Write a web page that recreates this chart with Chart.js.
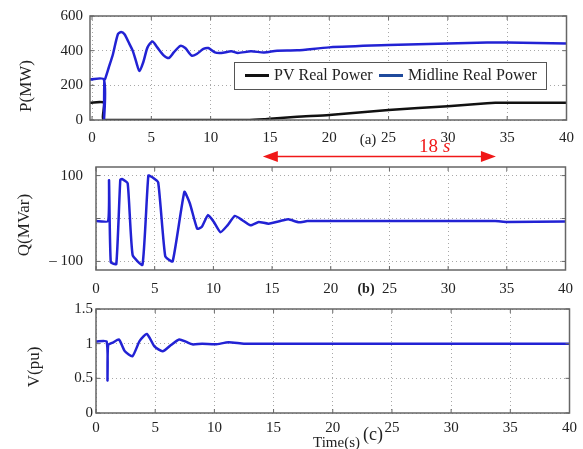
<!DOCTYPE html>
<html>
<head>
<meta charset="utf-8">
<script src="https://cdn.jsdelivr.net/npm/chart.js@4.4.1/dist/chart.umd.min.js"></script>
<style>
    html, body { margin: 0; padding: 0; background: #fff; }
    #wrap { position: relative; width: 583px; height: 449px; overflow: hidden; }
    #wrap canvas { position: absolute; left: 0; top: 0; }
</style>
</head>
<body>
<div id="wrap">
    <canvas id="chartP" width="583" height="449"></canvas>
    <canvas id="chartQ" width="583" height="449"></canvas>
    <canvas id="chartV" width="583" height="449"></canvas>
</div>
<script>
// ---------------------------
// Data
// ---------------------------
const timeTicks = [0, 5, 10, 15, 20, 25, 30, 35, 40];

const pTicks = [0, 200, 400, 600];
const pvTime  = [-0.17, 1.0, 1.01, 13, 14.5, 15.6, 17.3, 20, 25, 30, 33.3, 34, 40];
const pvPower = [100, 100, 0, 0, 4, 10, 19, 29, 57, 80, 97, 99, 99];
const midTime  = [-0.17, 1.0, 1.01, 1.04, 1.1, 1.4, 1.77, 2.18, 2.46, 2.74, 3.16, 3.43, 3.75, 3.99, 4.32, 4.68, 5.09, 5.5, 6.06, 6.48, 6.89, 7.45, 7.86, 8.41, 8.83, 9.39, 9.8, 10.36, 10.9, 11.74, 12.3, 13.4, 14.5, 15.6, 17.3, 20, 25, 30, 33.3, 35, 40];
const midPower = [234, 234, 0, 234, 236, 300, 381, 495, 508, 495, 438, 400, 330, 282, 333, 419, 453, 419, 371, 358, 390, 428, 415, 371, 381, 410, 415, 390, 387, 396, 387, 396, 390, 400, 402, 419, 432, 442, 447, 447, 442];

const qTicks = [-100, 0, 100];
const qTickLabels = ["\u2013 100", "", "100"];
const qTime = [0, 1.03, 1.11, 1.26, 1.73, 2.07, 2.24, 2.7, 3.12, 3.96, 4.46, 4.8, 5.3, 5.9, 6.53, 7.53, 8.0, 8.62, 9.0, 9.54, 10.04, 10.6, 11.2, 11.83, 12.47, 13.16, 13.86, 14.7, 15.96, 16.4, 17.3, 18, 25, 34, 35, 40];
const qVar  = [-6, -6, 89, -102, -106, 90, 92, 82, -85, -108, 100, 96, 84, -88, -100, 62, 35, -24, -20, 8, -8, -32, -16, 6, -4, -16, -8, -12, -4, -2, -9, -6, -6, -6, -8, -7];

const vTicks = [0, 0.5, 1, 1.5];
const vTime = [0, 0.9, 0.97, 1.03, 1.47, 1.94, 2.44, 3.08, 3.69, 4.3, 4.94, 5.63, 6.33, 7.03, 7.58, 8.14, 8.97, 10.08, 11.2, 12.5, 15, 20, 30, 40];
const vPu   = [1.03, 1.03, 0.47, 0.98, 1.02, 1.06, 0.89, 0.82, 1.04, 1.14, 0.96, 0.89, 0.98, 1.06, 1.03, 0.99, 1.0, 0.99, 1.02, 1.0, 1.0, 1.0, 1.0, 1.0];

// arrow under panel (a), in seconds
const arrowSpan = [14.4, 34.05];

// ---------------------------
// Styles
// ---------------------------
const SERIF = '"Liberation Serif", "Times New Roman", serif';
const BLUE = "#2222d4";
const LEGEND_BLUE = "#1f4a9c";
const GRID = "#a8a8a8";
const FRAME = "#666";
const TXT = "#222";

const toPoints = (xs, ys) => xs.map((x, i) => ({ x: x, y: ys[i] }));

// box around the plot area + small inward ticks (matlab look)
const framePlugin = {
    id: "frame",
    afterDatasetsDraw(chart) {
        const { ctx, chartArea: a, scales } = chart;
        ctx.save();
        ctx.strokeStyle = FRAME;
        ctx.lineWidth = 1;
        ctx.beginPath();
        scales.x.ticks.forEach(t => {
            const x = scales.x.getPixelForValue(t.value);
            ctx.moveTo(x, a.bottom); ctx.lineTo(x, a.bottom - 4);
            ctx.moveTo(x, a.top); ctx.lineTo(x, a.top + 4);
        });
        scales.y.ticks.forEach(t => {
            const y = scales.y.getPixelForValue(t.value);
            ctx.moveTo(a.left, y); ctx.lineTo(a.left + 4, y);
            ctx.moveTo(a.right, y); ctx.lineTo(a.right - 4, y);
        });
        ctx.stroke();
        ctx.lineWidth = 1.5;
        ctx.strokeRect(a.left, a.top, a.right - a.left, a.bottom - a.top);
        ctx.restore();
    }
};

// free text (axis titles, panel letters)
const notesPlugin = {
    id: "notes",
    afterDraw(chart, args, opts) {
        const ctx = chart.ctx;
        (opts.items || []).forEach(n => {
            ctx.save();
            ctx.fillStyle = n.color || TXT;
            ctx.font = `${n.style || ""} ${n.size}px ${SERIF}`;
            ctx.textAlign = n.align || "center";
            ctx.textBaseline = "middle";
            ctx.translate(n.x, n.y);
            if (n.rotate) ctx.rotate(n.rotate);
            ctx.fillText(n.text, 0, 0);
            ctx.restore();
        });
    }
};

// legend box + red 18 s arrow for panel (a)
const panelAPlugin = {
    id: "panelA",
    afterDraw(chart) {
        const { ctx, scales } = chart;
        ctx.save();
        // legend
        ctx.fillStyle = "#fff";
        ctx.fillRect(234, 62, 312, 27);
        ctx.strokeStyle = "#555";
        ctx.lineWidth = 1;
        ctx.strokeRect(234.5, 62.5, 312, 27);
        const entries = [
            { x: 245, color: chart.data.datasets[0].borderColor, label: chart.data.datasets[0].label },
            { x: 379, color: LEGEND_BLUE, label: chart.data.datasets[1].label }
        ];
        ctx.font = `16px ${SERIF}`;
        ctx.textBaseline = "middle";
        ctx.textAlign = "left";
        entries.forEach(e => {
            ctx.strokeStyle = e.color;
            ctx.lineWidth = 3;
            ctx.beginPath();
            ctx.moveTo(e.x, 75.5); ctx.lineTo(e.x + 24, 75.5);
            ctx.stroke();
            ctx.fillStyle = TXT;
            ctx.fillText(e.label, e.x + 29, 76);
        });

        // double arrow
        const x0 = scales.x.getPixelForValue(arrowSpan[0]);
        const x1 = scales.x.getPixelForValue(arrowSpan[1]);
        const y = 156.5;
        ctx.strokeStyle = "#f01818";
        ctx.fillStyle = "#f01818";
        ctx.lineWidth = 1.5;
        ctx.beginPath();
        ctx.moveTo(x0 + 12, y); ctx.lineTo(x1 - 12, y);
        ctx.stroke();
        ctx.beginPath();
        ctx.moveTo(x0, y); ctx.lineTo(x0 + 15, y - 5.5); ctx.lineTo(x0 + 15, y + 5.5); ctx.closePath();
        ctx.moveTo(x1, y); ctx.lineTo(x1 - 15, y - 5.5); ctx.lineTo(x1 - 15, y + 5.5); ctx.closePath();
        ctx.fill();

        ctx.textBaseline = "alphabetic";
        ctx.font = `19px ${SERIF}`;
        ctx.fillText("18", 419, 152);
        ctx.font = `italic 19px ${SERIF}`;
        ctx.fillText("s", 443, 152);
        ctx.restore();
    }
};

// ---------------------------
// Shared options
// ---------------------------
function panelOptions(cfg) {
    return {
        responsive: false,
        animation: false,
        devicePixelRatio: 1,
        layout: { padding: { left: 0, right: cfg.right, top: cfg.top, bottom: cfg.bottom } },
        plugins: {
            legend: { display: false },
            tooltip: { enabled: false },
            notes: { items: cfg.notes }
        },
        elements: { point: { radius: 0 }, line: { borderCapStyle: "round", borderJoinStyle: "round" } },
        scales: {
            x: {
                type: "linear",
                min: cfg.xMin,
                max: 40,
                afterBuildTicks: s => { s.ticks = timeTicks.map(v => ({ value: v })); },
                afterFit: s => { s.height = 30; },
                grid: { color: GRID, lineWidth: 1, drawTicks: false },
                border: { display: false, dash: [1, 3] },
                ticks: { padding: cfg.xPad, color: TXT, font: { family: SERIF, size: 15 }, maxRotation: 0, autoSkip: false, callback: v => String(v) }
            },
            y: {
                type: "linear",
                min: cfg.yMin,
                max: cfg.yMax,
                afterBuildTicks: s => { s.ticks = cfg.yTicks.map(v => ({ value: v })); },
                afterFit: s => { s.width = cfg.left; },
                grid: { color: GRID, lineWidth: 1, drawTicks: false },
                border: { display: false, dash: [1, 3] },
                ticks: { padding: cfg.yPad, color: TXT, font: { family: SERIF, size: 15 }, autoSkip: false, callback: cfg.yLabel || (v => String(v)) }
            }
        }
    };
}

// ---------------------------
// Panel (a) - real power
// ---------------------------
new Chart(document.getElementById("chartP"), {
    type: "line",
    data: {
        datasets: [
            { label: "PV Real Power", data: toPoints(pvTime, pvPower), borderColor: "#111", borderWidth: 2.5, tension: 0.2, order: 1 },
            { label: "Midline Real Power", data: toPoints(midTime, midPower), borderColor: BLUE, borderWidth: 2.5, tension: 0.25, order: 0 }
        ]
    },
    options: panelOptions({
        xMin: -0.17, left: 90, right: 9.5, top: 15, bottom: 299, xPad: 9,
        yMin: 0, yMax: 600, yTicks: pTicks, yPad: 7,
        notes: [
            { text: "P(MW)", x: 27, y: 86, size: 17, rotate: -Math.PI / 2 },
            { text: "(a)", x: 368, y: 140, size: 15 }
        ]
    }),
    plugins: [framePlugin, notesPlugin, panelAPlugin]
});

// ---------------------------
// Panel (b) - reactive power
// ---------------------------
new Chart(document.getElementById("chartQ"), {
    type: "line",
    data: {
        datasets: [
            { label: "Q", data: toPoints(qTime, qVar), borderColor: BLUE, borderWidth: 2.5, tension: 0.15 }
        ]
    },
    options: panelOptions({
        xMin: 0, left: 96, right: 9, top: 167, bottom: 149, xPad: 10,
        yMin: -120, yMax: 120, yTicks: qTicks, yPad: 13,
        yLabel: v => qTickLabels[qTicks.indexOf(v)],
        notes: [
            { text: "Q(MVar)", x: 25, y: 225, size: 17, rotate: -Math.PI / 2 },
            { text: "(b)", x: 366, y: 289, size: 14, style: "bold" }
        ]
    }),
    plugins: [framePlugin, notesPlugin]
});

// ---------------------------
// Panel (c) - voltage
// ---------------------------
new Chart(document.getElementById("chartV"), {
    type: "line",
    data: {
        datasets: [
            { label: "V", data: toPoints(vTime, vPu), borderColor: BLUE, borderWidth: 2.5, tension: 0.2 }
        ]
    },
    options: panelOptions({
        xMin: 0, left: 96, right: 7, top: 309, bottom: 6, xPad: 6,
        yMin: 0, yMax: 1.5, yTicks: vTicks, yPad: 3,
        notes: [
            { text: "V(pu)", x: 35, y: 367, size: 17, rotate: -Math.PI / 2 },
            { text: "(c)", x: 373, y: 435, size: 18 },
            { text: "Time(s)", x: 336.5, y: 443, size: 15 }
        ]
    }),
    plugins: [framePlugin, notesPlugin]
});
</script>
</body>
</html>
